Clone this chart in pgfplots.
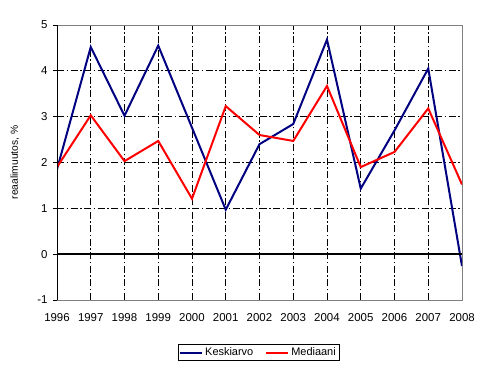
\documentclass[border=0pt]{standalone}
\usepackage{pgfplots}
\pgfplotsset{compat=1.18}
\usepackage{fontspec}
\setmainfont{Liberation Sans}
\definecolor{navyc}{RGB}{0,0,128}
\definecolor{gridgray}{RGB}{128,128,128}
\begin{document}
\begin{tikzpicture}
\useasboundingbox (0,0) rectangle (493bp,371bp);
\begin{axis}[
  at={(57bp,71bp)}, anchor=south west,
  scale only axis, width=405bp, height=275bp,
  xmin=1996, xmax=2008, ymin=-1, ymax=5,
  xtick={1997,...,2007}, extra x ticks={1996,2008},
  extra x tick style={grid=none},
  ytick={1,2,3,4}, extra y ticks={-1,0,5},
  extra y tick style={grid=none},
  grid=major,
  major grid style={black, line width=0.8bp, dash pattern=on 7bp off 2.5bp on 1.5bp off 2.5bp},
  axis line style={gridgray, line width=0.8bp},
  tick pos=left, tick align=outside,
  major tick length=4bp,
  y tick style={black, line width=0.8bp},
  x tick style={draw=none},
  /pgf/number format/assume math mode=true,
  /pgf/number format/1000 sep={},
  tick label style={font=\fontsize{11.5}{13}\selectfont, black},
  xticklabel style={yshift=-6bp},
  yticklabel style={xshift=-2bp},
  ylabel={reaalimuutos, \%},
  every axis y label/.style={at={(axis description cs:-0.104,0.5)},rotate=90,anchor=center, font=\fontsize{10.3}{12}\selectfont},
  legend style={at={(axis description cs:0.4975,-0.191)}, anchor=center, legend columns=2, draw=black, line width=0.8bp, font=\fontsize{11}{12}\selectfont, inner sep=1.2bp, /tikz/every even column/.append style={column sep=10bp}},
  legend cell align=left,
  legend image code/.code={\draw[#1, line width=2bp] (0bp,0bp) -- (22bp,0bp);},
]
\addplot[navyc, line width=2bp] coordinates {
(1996,1.85) (1997,4.52) (1998,3.02) (1999,4.55) (2000,2.76) (2001,0.97)
(2002,2.40) (2003,2.84) (2004,4.68) (2005,1.43) (2006,2.70) (2007,4.05) (2008,-0.26)};
\addlegendentry{Keskiarvo}
\addplot[red, line width=2bp] coordinates {
(1996,1.90) (1997,3.03) (1998,2.03) (1999,2.47) (2000,1.21) (2001,3.23)
(2002,2.60) (2003,2.47) (2004,3.67) (2005,1.90) (2006,2.23) (2007,3.18) (2008,1.52)};
\addlegendentry{Mediaani}
\draw[black, line width=2bp] (axis cs:1996,0) -- (axis cs:2008,0);
\draw[black, line width=0.9bp] (axis cs:1996,-1) -- (axis cs:1996,5);
\end{axis}
\end{tikzpicture}
\end{document}
